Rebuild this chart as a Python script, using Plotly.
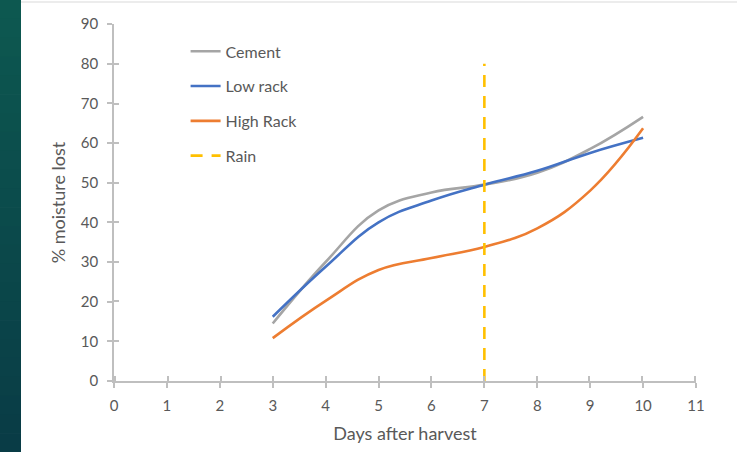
import plotly.graph_objects as go

# Moisture loss measurements by drying method
days = [3, 4, 5, 6, 7, 8, 9, 10]
cement = [14.5, 30.0, 43.0, 47.5, 49.5, 52.5, 58.5, 66.6]
low_rack = [16.2, 28.8, 40.0, 45.5, 49.5, 53.0, 57.5, 61.3]
high_rack = [10.8, 20.2, 28.0, 31.0, 33.8, 38.5, 48.0, 63.7]

# Rain event marker
rain_day = [7, 7]
rain_level = [0, 80]

x_ticks = list(range(0, 12))
y_ticks = list(range(0, 100, 10))

FONT = "Lato, 'Liberation Sans', sans-serif"
TEXT = "#595959"
AXIS = "#bfbfbf"

fig = go.Figure()

series = [
    ("Cement", cement, "#a5a5a5"),
    ("Low rack", low_rack, "#4472c4"),
    ("High Rack", high_rack, "#ed7d31"),
]
for name, vals, color in series:
    fig.add_trace(go.Scatter(
        x=days, y=vals, name=name, mode="lines", legendgroup=name,
        line=dict(color=color, width=2.6, shape="spline", smoothing=1.2),
        hoverinfo="x+y+name",
    ))

fig.add_trace(go.Scatter(
    x=rain_day, y=rain_level, name="Rain", mode="lines", legendgroup="Rain",
    line=dict(color="#ffc000", width=2.6, dash="12px,9px"),
))

# Dark side band with a vertical gradient
top = (13, 88, 80)
bot = (9, 60, 70)
n = 24
L, P = 114, 582
for i in range(n):
    t = i / (n - 1)
    c = tuple(round(top[k] + (bot[k] - top[k]) * t) for k in range(3))
    fig.add_shape(
        type="rect", xref="paper", yref="paper", layer="below",
        x0=(0 - L) / P, x1=(21 - L) / P,
        y0=1 + 24 / 357 - (i + 1) * (452 / 357) / n - 0.002,
        y1=1 + 24 / 357 - i * (452 / 357) / n,
        fillcolor="rgb(%d,%d,%d)" % c, line=dict(width=0),
    )
# Thin frame line along the top
fig.add_shape(
    type="line", xref="paper", yref="paper",
    x0=(21 - L) / P, x1=1 + 41 / P, y0=1 + 22 / 357, y1=1 + 22 / 357,
    line=dict(color="#d9d9d9", width=1),
)

axis_common = dict(showgrid=False, zeroline=False, linecolor=AXIS, linewidth=1.5,
                   tickcolor=AXIS, tickwidth=1.5, ticklen=5,
                   tickfont=dict(family=FONT, size=15, color=TEXT))

fig.update_layout(
    width=737, height=452,
    margin=dict(l=114, r=41, t=24, b=71),
    paper_bgcolor="white", plot_bgcolor="white",
    font=dict(family=FONT, color=TEXT, size=15),
    xaxis=dict(range=[0, 11], tickvals=x_ticks, ticks="outside", showline=True,
               title=dict(text="Days after harvest", font=dict(size=18, family=FONT, color=TEXT), standoff=15),
               ticklabelstandoff=5, **axis_common),
    yaxis=dict(range=[0, 90], tickvals=y_ticks, ticks="outside", showline=True,
               title=dict(text="% moisture lost", font=dict(size=18, family=FONT, color=TEXT), standoff=11),
               ticklabelstandoff=6, **axis_common),
    # Overlay axes carry the inward half of the crossing tick marks
    xaxis2=dict(range=[-0.025, 11.025], tickvals=x_ticks, ticks="inside", overlaying="x", anchor="y2",
                showticklabels=False, showline=False, showgrid=False, zeroline=False,
                tickcolor=AXIS, tickwidth=1.5, ticklen=5),
    yaxis2=dict(range=[-0.2, 90.2], tickvals=y_ticks, ticks="inside", overlaying="y", anchor="x2",
                showticklabels=False, showline=False, showgrid=False, zeroline=False,
                tickcolor=AXIS, tickwidth=1.5, ticklen=5),
    legend=dict(x=0.123, y=0.971, xanchor="left", yanchor="top",
                bgcolor="rgba(0,0,0,0)", tracegroupgap=11,
                font=dict(family=FONT, size=16, color=TEXT)),
    showlegend=True,
)

# Invisible trace so the overlay axes are rendered
fig.add_trace(go.Scatter(x=[0], y=[0], xaxis="x2", yaxis="y2", mode="markers",
                         marker=dict(opacity=0), showlegend=False, hoverinfo="skip"))

fig.write_html("out.html")
